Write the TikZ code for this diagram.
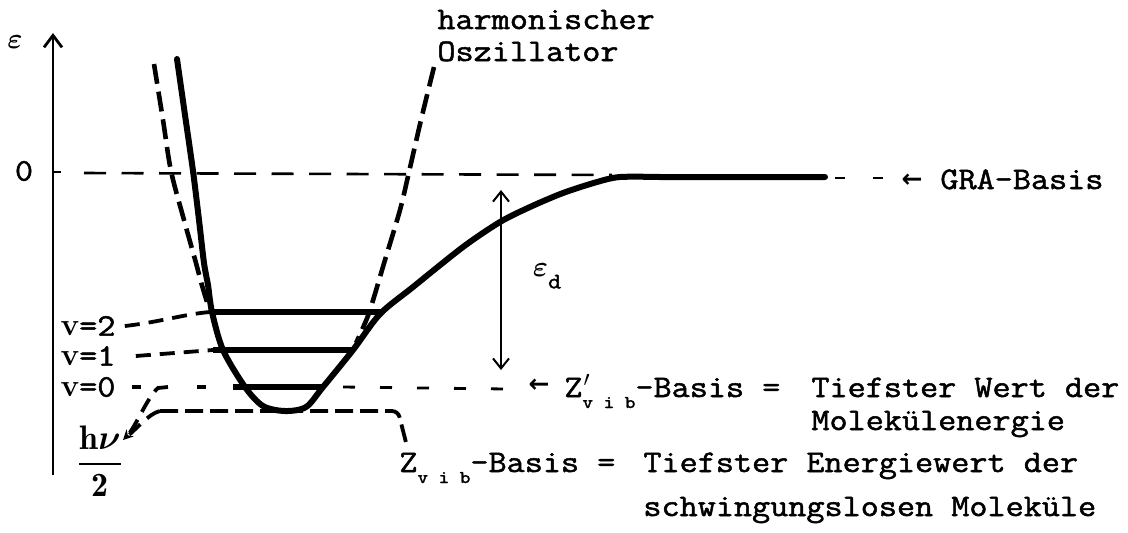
\documentclass[tikz,border=0pt]{standalone}
\usepackage{amsmath}
\usepackage{fontspec}
\setmonofont[FakeStretch=1.12,FakeBold=1.6]{Latin Modern Mono}
\newfontfamily\arrowfont{DejaVu Sans}
\usetikzlibrary{arrows.meta}
\begin{document}
\begin{tikzpicture}[x=0.5pt,y=-0.5pt,
  txt/.style={font=\ttfamily\fontsize{15.7pt}{18pt}\selectfont, inner sep=0pt, anchor=base west},
  txtc/.style={font=\ttfamily\fontsize{15.7pt}{18pt}\selectfont, inner sep=0pt, anchor=center},
  morse/.style={line width=3pt, line cap=round, line join=round},
  harmo/.style={line width=2.3pt, dash pattern=on 10pt off 4pt},
  level/.style={line width=2.8pt},
  conn/.style={line width=1.9pt, dash pattern=on 7.5pt off 4.5pt},
  zbconn/.style={line width=1.9pt, dash pattern=on 9pt off 3.5pt},
  zeroline/.style={line width=1.3pt, dash pattern=on 11pt off 7.75pt},
  zpline/.style={line width=1.4pt, dash pattern=on 6pt off 12.5pt},
  thinarrow/.style={line width=1pt, {Straight Barb[length=5pt,width=8pt]}-{Straight Barb[length=5pt,width=8pt]}},
  smallarr/.style={inner sep=0pt, font=\arrowfont\bfseries\fontsize{12.5pt}{12.5pt}\selectfont},
]
\useasboundingbox (0,0) rectangle (1128,532);

% axis
\coordinate (axB) at (53,475);
\coordinate (axT) at (53,33);
\draw[line width=1.4pt,-{Straight Barb[length=6pt,width=9pt]}] (axB) -- (axT);
\node[inner sep=0pt, font=\fontsize{15pt}{15pt}\selectfont] (eps) at (15,42) {$\boldsymbol{\varepsilon}$};
\node[txtc] (zero) at (24,171) {0};
\coordinate (tick) at (53,172);
\coordinate (tickE) at (61,172);
\draw[line width=1.4pt] (tick) -- (tickE);

% zero line
\coordinate (z0a) at (84,173);
\coordinate (z0b) at (612,175);
\draw[zeroline] (z0a) -- (z0b);

% harmonic oscillator
\draw[harmo] plot[smooth] coordinates {(154,64) (163,120) (171,171) (184,220) (196,263) (201,282) (207,302)};
\draw[harmo] plot[smooth] coordinates {(434,67) (421,120) (409,172) (400,210) (385,260) (370,310) (362,330) (356,343)};

% Morse potential
\coordinate (flatEnd) at (825,177);
\draw[morse] plot[smooth, tension=0.5] coordinates {(177,59) (185,115) (193,171) (199,220) (204,263) (208,285) (212,312) (223,350) (245,387) (263,406) (285,411) (306,407) (323,387) (353,350) (380,314) (413,287) (463,247) (500,222) (530,207) (563,193) (597,182) (620,177) (660,177)} -- (flatEnd);

% GRA basis
\coordinate (gdA) at (835,178);
\coordinate (gdB) at (884,178);
\draw[line width=1.3pt, dash pattern=on 5pt off 14pt] (gdA) -- (gdB);
\node[smallarr] (graArr) at (912,181) {←};
\node[txt] (gra) at (940,189) {GRA-Basis};

% levels
\coordinate (v2L) at (210,312); \coordinate (v2R) at (383,312);
\coordinate (v1L) at (213,350); \coordinate (v1R) at (353,350);
\coordinate (v0L) at (233,387); \coordinate (v0R) at (323,387);
\draw[level] (v2L) -- (v2R);
\draw[level] (v1L) -- (v1R);
\draw[level] (v0L) -- (v0R);

\node[txtc] (v2) at (88,326) {{\rmfamily\bfseries v}=2};
\node[txtc] (v1) at (88,356) {{\rmfamily\bfseries v}=1};
\node[txtc] (v0) at (88,387) {{\rmfamily\bfseries v}=0};

\draw[conn] ([xshift=4.5pt]v2.east) .. controls (160,322) and (185,314) .. (v2L);
\draw[conn] ([xshift=10pt]v1.east) -- (v1L);
\draw[conn, dash pattern=on 4.5pt off 28pt] ([xshift=8pt]v0.east) -- (v0L);

% Z' basis
\coordinate (zpEnd) at (507,389);
\draw[zpline] ([xshift=10pt]v0R) -- (zpEnd);
\node[smallarr] (zpArr) at (539,386) {←};
\node[txt] (zp) at (564,397) {Z\rlap{\hspace{0.5pt}$'$}\raisebox{-5.5pt}{\fontsize{9pt}{9pt}\selectfont v i b}-Basis =};
\node[txt] (tw) at (811,397) {Tiefster Wert der};
\node[txt] (me) at (811,430) {Molekülenergie};

% Z basis
\node[txt] (zb) at (399,472) {Z\raisebox{-5.5pt}{\fontsize{9pt}{9pt}\selectfont v i b}-Basis =};
\node[txt] (te) at (643,472) {Tiefster Energiewert der};
\node[txt] (sm) at (643,516) {schwingungslosen Moleküle};
\coordinate (zbL) at (160,411);
\coordinate (zbC) at (398,411);
\draw[zbconn, rounded corners=3pt] (zbL) -- (zbC) -- ([xshift=4pt,yshift=3pt]zb.north west);

% hv/2
\node[inner sep=0pt, font=\fontsize{17pt}{19pt}\selectfont] (hnu) at (100,461) {$\displaystyle\frac{\mathbf{h}\boldsymbol{\nu}}{\mathbf{2}}$};
\coordinate (hT) at (123,440);
\coordinate (hA) at (168,387);
\coordinate (hB) at (158,388);
\draw[conn, -{Stealth[length=5pt,width=5pt]}] (hA) -- (hB) .. controls (148,396) and (135,428) .. (hT);
\draw[conn] (zbL) .. controls (148,414) and (138,428) .. (hT);

% epsilon_d
\coordinate (edT) at (501,190);
\coordinate (edB) at (501,370);
\draw[thinarrow] (edT) -- (edB);
\node[inner sep=0pt, font=\fontsize{14pt}{14pt}\selectfont] (ed) at (547,276) {$\boldsymbol{\varepsilon}$\raisebox{-6pt}{\ttfamily\fontsize{11pt}{11pt}\selectfont d}};

% harmonic label
\node[txt] (harm) at (437,29) {harmonischer};
\node[txt] (osz) at (437,61) {Oszillator};
\end{tikzpicture}
\end{document}
